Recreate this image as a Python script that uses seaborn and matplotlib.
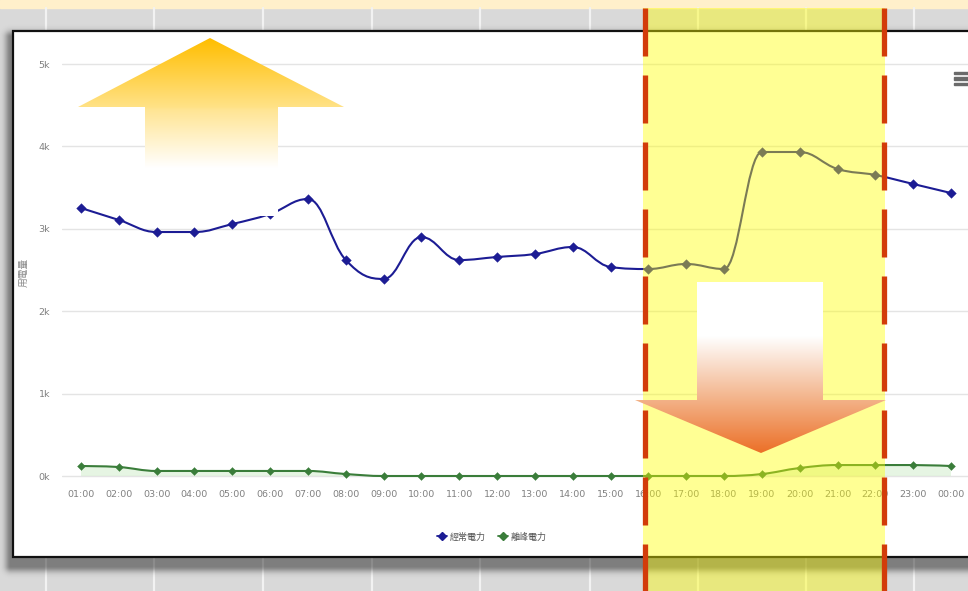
import numpy as np
import pandas as pd
import matplotlib
matplotlib.use("Agg")
import matplotlib.pyplot as plt
import seaborn as sns
from matplotlib.path import Path
from matplotlib.patches import PathPatch, Rectangle, Polygon
from matplotlib.lines import Line2D

# ---- data -------------------------------------------------------------
hours = ["01:00", "02:00", "03:00", "04:00", "05:00", "06:00", "07:00", "08:00",
         "09:00", "10:00", "11:00", "12:00", "13:00", "14:00", "15:00", "16:00",
         "17:00", "18:00", "19:00", "20:00", "21:00", "22:00", "23:00", "00:00"]
regular_kw = [3252, 3107, 2961, 2961, 3058, 3180, 3362, 2621, 2391, 2900, 2621, 2658,
              2694, 2779, 2536, 2512, 2573, 2512, 3932, 3932, 3726, 3653, 3544, 3434]
offpeak_kw = [121, 109, 61, 61, 61, 61, 61, 24, 0, 0, 0, 0,
              0, 0, 0, 0, 0, 0, 24, 97, 133, 133, 133, 121]
series_names = ["經常電力", "離峰電力"]
series_colors = ["#1c1c94", "#3a7d3a"]
y_ticks = [0, 1000, 2000, 3000, 4000, 5000]
y_tick_labels = ["0k", "1k", "2k", "3k", "4k", "5k"]
y_title = "用電量"

W, H = 968, 591
sns.set_style("white")
plt.rcParams["font.family"] = ["Noto Sans CJK TC", "DejaVu Sans"]
plt.rcParams["lines.scale_dashes"] = False

fig = plt.figure(figsize=(W / 100, H / 100), dpi=100)


def px_axes(z):
    a = fig.add_axes([0, 0, 1, 1], zorder=z)
    a.set_xlim(0, W)
    a.set_ylim(H, 0)
    a.axis("off")
    a.patch.set_visible(False)
    return a


# ---- backdrop: sheet, shadow and white chart panel --------------------
bg = px_axes(0)
bg.add_patch(Rectangle((0, 0), W, H, color="#d9d9d9", zorder=0))
bg.add_patch(Rectangle((0, 0), W, 8, color="#fff0cb", zorder=1))
for gx in [46, 154, 263, 372, 480, 590, 698, 806, 914]:
    bg.plot([gx, gx], [8, H], color="#f2f2f2", lw=1.6, zorder=1)

yy, xx = np.mgrid[0:H, 0:W] + 0.5
sx0, sx1, sy0, sy1 = 11, 980, 37, 566
dx = np.maximum(np.maximum(sx0 - xx, 0), xx - sx1)
dy = np.maximum(np.maximum(sy0 - yy, 0), yy - sy1)
dist = np.hypot(dx, dy)
shadow = np.zeros((H, W, 4))
shadow[..., 3] = 0.42 * np.exp(-(dist / 6.0) ** 2)
bg.imshow(shadow, extent=(0, W, H, 0), aspect="auto", zorder=2, interpolation="bilinear")
bg.add_patch(Rectangle((13, 31), W + 10, 526, facecolor="white",
                       edgecolor="#111111", lw=1.6, zorder=3))
for by in [73, 78.5, 84]:
    bg.add_patch(Rectangle((954, by - 1.3), 14, 2.6, color="#6a6a6a", zorder=4))
bg.set_xlim(0, W)
bg.set_ylim(H, 0)

# ---- chart axes ------------------------------------------------------
left_px, right_px, top_px, bot_px = 62, 968, 56, 486
ax = fig.add_axes([left_px / W, 1 - bot_px / H, (right_px - left_px) / W,
                   (bot_px - top_px) / H], zorder=1)
ax.patch.set_visible(False)
xpos = np.arange(len(hours))
px_per_x = (951 - 81) / 23
ax.set_xlim(-(81 - left_px) / px_per_x, 23 + (right_px - 951) / px_per_x)
px_per_y = (476 - 64) / 5000
ax.set_ylim(-(bot_px - 476) / px_per_y, 5000 + (64 - top_px) / px_per_y)
for s in ax.spines.values():
    s.set_visible(False)
ax.set_yticks(y_ticks)
ax.set_yticklabels(y_tick_labels)
ax.set_xticks(xpos)
ax.set_xticklabels(hours)
ax.tick_params(axis="both", length=0, colors="#808080", labelsize=6.8)
ax.tick_params(axis="y", pad=8.5)
ax.tick_params(axis="x", pad=3)
for lab in ax.get_xticklabels() + ax.get_yticklabels():
    lab.set_family(["Liberation Sans Narrow", "DejaVu Sans"])
ax.grid(axis="y", color="#e4e4e4", lw=1.0)
ax.grid(axis="x", visible=False)
ax.set_axisbelow(True)


def spline_path(xs, ys, close_to=None):
    """Cubic Bezier path through the points, smoothed like a Highcharts spline."""
    sm, den = 1.5, 2.5
    n = len(xs)
    lc = [(xs[i], ys[i]) for i in range(n)]
    rc = [(xs[i], ys[i]) for i in range(n)]
    for i in range(1, n - 1):
        x, y = xs[i], ys[i]
        lx, ly = xs[i - 1], ys[i - 1]
        nx, ny = xs[i + 1], ys[i + 1]
        lcx, lcy = (sm * x + lx) / den, (sm * y + ly) / den
        rcx, rcy = (sm * x + nx) / den, (sm * y + ny) / den
        if rcx != lcx:
            corr = ((rcy - lcy) * (rcx - x)) / (rcx - lcx) + y - rcy
            lcy += corr
            rcy += corr
        if lcy > ly and lcy > y:
            lcy = max(ly, y); rcy = 2 * y - lcy
        elif lcy < ly and lcy < y:
            lcy = min(ly, y); rcy = 2 * y - lcy
        if rcy > ny and rcy > y:
            rcy = max(ny, y); lcy = 2 * y - rcy
        elif rcy < ny and rcy < y:
            rcy = min(ny, y); lcy = 2 * y - rcy
        lc[i] = (lcx, lcy)
        rc[i] = (rcx, rcy)
    verts = [(xs[0], ys[0])]
    codes = [Path.MOVETO]
    for i in range(1, n):
        verts += [rc[i - 1], lc[i], (xs[i], ys[i])]
        codes += [Path.CURVE4] * 3
    if close_to is not None:
        verts += [(xs[-1], close_to), (xs[0], close_to), (xs[0], ys[0])]
        codes += [Path.LINETO, Path.LINETO, Path.CLOSEPOLY]
    return Path(verts, codes)


# faint area under the off-peak series
ax.add_patch(PathPatch(spline_path(xpos, offpeak_kw, close_to=0), facecolor="#b8e3b0",
                       edgecolor="none", alpha=0.35, zorder=2))
for vals, col, ms in [(regular_kw, series_colors[0], 24), (offpeak_kw, series_colors[1], 16)]:
    ax.add_patch(PathPatch(spline_path(xpos, vals), facecolor="none", edgecolor=col,
                           lw=1.5, zorder=3, capstyle="round", joinstyle="round"))
    df = pd.DataFrame({"x": xpos, "y": vals})
    sns.scatterplot(data=df, x="x", y="y", marker="D", s=ms, color=col,
                    edgecolor=col, linewidth=0.3, ax=ax, zorder=4, legend=False)
ax.set_xlabel("")
ax.set_ylabel("")

fig.text(23 / W, 1 - 272 / H, y_title, rotation=90, ha="center", va="center",
         fontsize=7, color="#8a8a8a")

handles = [Line2D([], [], color=c, marker="D", markersize=4, lw=1.3) for c in series_colors]
fig.legend(handles, series_names, loc="center", bbox_to_anchor=(492 / W, 1 - 537 / H),
           ncol=2, frameon=False, fontsize=6.5, labelcolor="#555555",
           handlelength=1.1, handletextpad=0.3, columnspacing=1.3)

# ---- overlay: highlighted window, arrows and dashed markers ----------
ov = px_axes(3)
ov.add_patch(Rectangle((643, 8), 885 - 643, H - 8, facecolor=(1.0, 1.0, 0.0),
                       alpha=0.42, edgecolor="none", zorder=1))


def gradient_polygon(verts, stops, z):
    xs = [v[0] for v in verts]
    ys = [v[1] for v in verts]
    y0, y1 = min(ys), max(ys)
    yy_ = np.linspace(y0, y1, int(y1 - y0) + 1)
    sy = [s[0] for s in stops]
    cols = np.stack([np.interp(yy_, sy, [s[1][c] for s in stops]) for c in range(3)], axis=1) / 255
    img = np.repeat(cols[:, None, :], 2, axis=1)
    im = ov.imshow(img, extent=(min(xs), max(xs), y1, y0), aspect="auto",
                   interpolation="bilinear", zorder=z)
    poly = Polygon(verts, closed=True, facecolor="none", edgecolor="none", transform=ov.transData)
    ov.add_patch(poly)
    im.set_clip_path(poly)


up_arrow = [(210, 38), (344, 107), (278, 107), (278, 216), (145, 216), (145, 107), (78, 107)]
gradient_polygon(up_arrow, [(38, (255, 190, 0)), (107, (255, 226, 135)), (110, (255, 229, 148)),
                            (168, (255, 255, 255)), (216, (255, 255, 255))], 2)
down_arrow = [(697, 282), (823, 282), (823, 400), (886, 400), (761, 453), (635, 400), (697, 400)]
gradient_polygon(down_arrow, [(282, (255, 255, 255)), (336, (255, 255, 255)), (370, (248, 214, 192)),
                              (400, (243, 178, 136)), (453, (236, 112, 40))], 2)

for lx in [644.5, 884]:
    ov.add_line(Line2D([lx, lx], [8, H], color="#d23c0a", lw=3.8,
                       linestyle=(0, (48 * 0.72, 19 * 0.72)), dash_capstyle="butt", zorder=3))
ov.set_xlim(0, W)
ov.set_ylim(H, 0)

fig.savefig("out.png", dpi=100)
